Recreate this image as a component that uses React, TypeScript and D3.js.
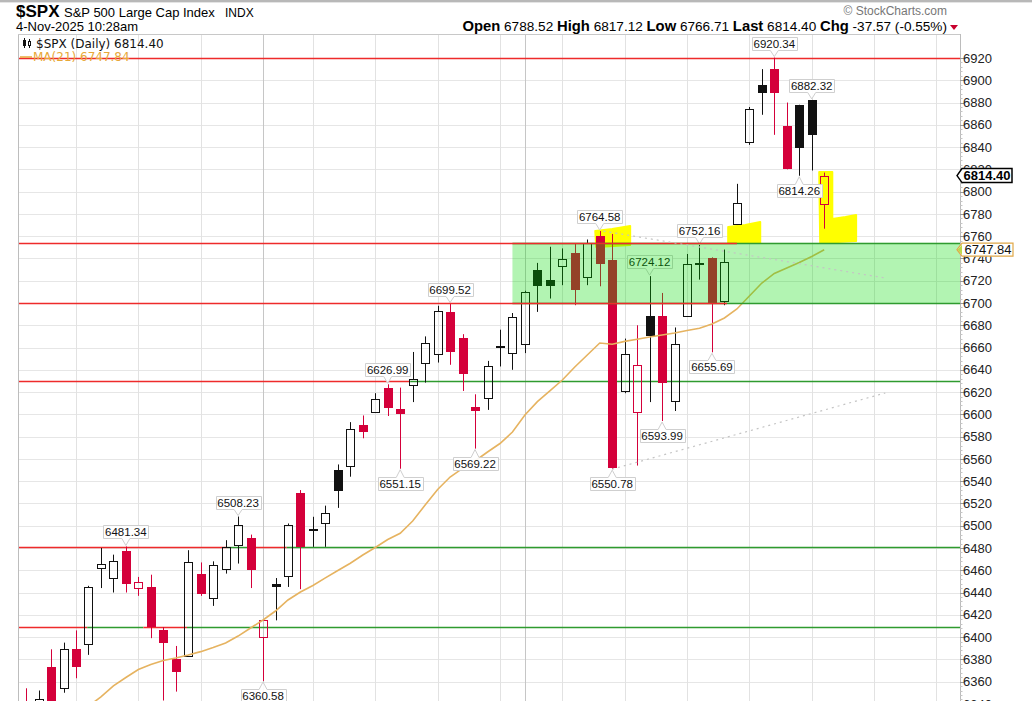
import * as d3 from 'd3';

// ---- daily candles, 5-Aug-2025 .. 4-Nov-2025 (index 0..64) ----
const opens = [
  6340, 6300, 6373, 6354,
  6389, 6394, 6462, 6453, 6477,
  6444, 6445, 6406, 6380, 6383,
  6457, 6435, 6461, 6483, 6489,
  6400, 6448, 6455, 6529,
  6497, 6502, 6550, 6554, 6590,
  6602, 6624, 6604.5, 6626, 6646,
  6654, 6692, 6669, 6607, 6614.5,
  6661, 6655, 6663.5, 6730, 6721,
  6733.5, 6745, 6723, 6760, 6739,
  6621, 6602, 6688, 6688, 6612,
  6688, 6736, 6740, 6702, 6771,
  6845, 6896, 6910, 6859, 6878,
  6882, 6788.52,
];
const highs = [
  6354, 6352, 6389, 6395,
  6406, 6446, 6480, 6474, 6481.34,
  6454, 6456, 6409, 6392, 6478,
  6467, 6468, 6487, 6508.23, 6492,
  6415, 6453, 6502, 6532,
  6508, 6518, 6555, 6593, 6599,
  6619, 6626.99, 6624, 6656, 6670,
  6697.5, 6699.52, 6672, 6618, 6648,
  6676, 6691, 6711, 6736, 6750.5,
  6749, 6753.5, 6757, 6764.58, 6762,
  6668, 6680, 6724.12, 6709, 6678,
  6744, 6752.16, 6741, 6748, 6807,
  6876, 6910, 6920.34, 6880, 6878,
  6882.32, 6817.12,
];
const lows = [
  6290, 6290, 6320, 6350,
  6363, 6384, 6444, 6440, 6440,
  6437, 6399, 6343, 6351, 6383,
  6437, 6428, 6457, 6466, 6444,
  6360.58, 6415, 6445, 6443,
  6481, 6481, 6516, 6544, 6578.5,
  6601.5, 6598.5, 6551.15, 6611, 6628.5,
  6646.5, 6644.5, 6621, 6569.22, 6604,
  6643, 6640, 6655, 6692, 6704,
  6716, 6698, 6716, 6715, 6550.78,
  6619, 6554, 6611, 6593.99, 6603,
  6688, 6721, 6655.69, 6698, 6770,
  6842, 6869, 6851, 6820, 6814.26,
  6819, 6766.71,
];
const closes = [
  6300, 6344, 6340, 6389,
  6373, 6445, 6466, 6468, 6448,
  6449, 6409, 6395, 6369, 6467,
  6439, 6465, 6481, 6501, 6460,
  6415, 6445, 6501, 6481,
  6495, 6511, 6531, 6587, 6584,
  6614, 6606, 6600, 6631.5, 6664,
  6693, 6656, 6636, 6603, 6643,
  6660, 6687, 6710, 6715, 6715.5,
  6739.5, 6712, 6754, 6735, 6552,
  6654, 6644, 6670, 6628, 6663,
  6735, 6735, 6699, 6737, 6790,
  6874, 6889, 6889, 6820.5, 6839,
  6851, 6814.40,
];
// r = close below previous close, k = close above it
const colors = [
  'r', 'k', 'r', 'k',
  'r', 'k', 'k', 'k', 'r',
  'r', 'r', 'r', 'r', 'k',
  'r', 'k', 'k', 'k', 'r',
  'r', 'k', 'k', 'r',
  'k', 'k', 'k', 'k', 'r',
  'k', 'r', 'r', 'k', 'k',
  'k', 'r', 'r', 'r', 'k',
  'k', 'k', 'k', 'k', 'k',
  'k', 'r', 'k', 'r', 'r',
  'k', 'r', 'k', 'r', 'k',
  'k', 'k', 'r', 'k', 'k',
  'k', 'k', 'r', 'r', 'k',
  'k', 'r',
];

// MA(21), starting at index 5
const maStart = 5;
const maValues = [
  6338, 6346.2, 6356.1, 6363.7, 6370.9, 6375.4, 6379, 6381.2, 6383.9, 6386.9,
  6390.6, 6394.7, 6400.9, 6408.1, 6415.3, 6423.4, 6433.3, 6440.5, 6446.3, 6453.1,
  6459.8, 6466.3, 6473.7, 6480.4, 6487.6, 6493.2, 6504.2, 6518.6, 6532.5, 6543.7,
  6551.4, 6558.1, 6566.2, 6573.8, 6584.1, 6599.4, 6611.4, 6621, 6630.8, 6642.5,
  6653.3, 6664.1, 6662.9, 6665.5, 6667.4, 6669.5, 6671.3, 6673.1, 6675.3, 6677.3,
  6681.1, 6686.5, 6694.6, 6706.3, 6717.9, 6726.5, 6731.4, 6736.4, 6741.7, 6747.84,
];

// grid: first trading day of each week, and of each month
const weekStarts = [4, 9, 14, 19, 23, 28, 33, 38, 43, 48, 53, 58, 63, 68, 73];
const monthStarts = [19, 40];

const yTicks = [
  6340, 6360, 6380, 6400, 6420, 6440, 6460, 6480, 6500, 6520, 6540, 6560, 6580, 6600, 6620,
  6640, 6660, 6680, 6700, 6720, 6740, 6760, 6780, 6800, 6820, 6840, 6860, 6880, 6900, 6920,
];

// annotation lines: [level, from index, to index, colour key]
const levelSegments: [number, number, number, string][] = [
  [6920, -1, 76, 'r'],
  [6630, -1, 30.8, 'r'], [6630, 30.8, 76, 'g'],
  [6481, -1, 16.1, 'r'], [6481, 16.1, 17.8, 'g'], [6481, 17.8, 20.9, 'r'], [6481, 20.9, 76, 'g'],
  [6409, -1, 4.9, 'r'], [6409, 4.9, 9.4, 'g'], [6409, 9.4, 12.9, 'r'], [6409, 12.9, 76, 'g'],
];
const zoneTop = 6754;
const zoneBottom = 6700;
const zoneStart = 39;
const zoneSegments: [number, number, number, string][] = [
  [6754, zoneStart, 76, 'g'], [6700, zoneStart, 76, 'g'],
  [6754, -1, 57, 'r'], [6700, -1, 56.2, 'r'],
];

// dotted trend lines [k1, v1, k2, v2]
const trendLines = [
  [46.3, 6764.58, 68.9, 6722.4],
  [47, 6550.78, 68.9, 6619.2],
];

// highlighter marks, polygons in (index, price)
const highlights: [number, number][][] = [
  [[45.64, 6764.7], [47.0, 6766.4], [48.44, 6769.1], [48.44, 6752.1], [45.72, 6750.3]],
  [[56.3, 6768.2], [57.67, 6770], [58.87, 6772.7], [58.87, 6753.9], [56.3, 6753.9]],
  [[63.6, 6817.6], [64.65, 6817.6], [64.65, 6775.4], [65.7, 6777.2], [66.56, 6779],
    [66.56, 6755.7], [63.68, 6753.9]],
];

// high / low call-outs
const calloutIndex = [60, 63, 62, 46, 54, 50, 34, 29, 30, 36, 47, 51, 55, 17, 8, 19];
const calloutValue = [6920.34, 6882.32, 6814.26, 6764.58, 6752.16, 6724.12, 6699.52, 6626.99,
  6551.15, 6569.22, 6550.78, 6593.99, 6655.69, 6508.23, 6481.34, 6360.58];
const calloutSide = ['a', 'a', 'b', 'a', 'a', 'a', 'a', 'a', 'b', 'b', 'b', 'b', 'b', 'a', 'a', 'b'];

const lastPrice = 6814.40;
const lastMA = 6747.84;

const SANS = '"Liberation Sans", Arial, Helvetica, sans-serif';
const VERD = '"DejaVu Sans", Verdana, sans-serif';
const RED = '#d4003a';
const LRED = '#ee2b2b';
const LGREEN = '#2f9b2f';

export default function App() {
  const W = 1032, H = 701;
  const left = 18, right = 960, top = 34;
  const x = d3.scaleLinear().domain([-0.65, 74.89]).range([left, right]);
  const y = d3.scaleLinear().domain([6920, 6360]).range([58, 681.6]);
  const px = (k: number) => Math.round(x(k)) + 0.5;
  const py = (v: number) => Math.round(y(v)) + 0.5;
  const cx = (k: number) => Math.max(left, Math.min(right, x(k)));

  const maLine = d3.line<number>()
    .x((_, i) => x(i + maStart))
    .y((d) => y(d));

  const poly = d3.line<[number, number]>().x((d) => x(d[0])).y((d) => y(d[1]));

  const minor = d3.range(6340, 6924, 4);

  return (
    <svg width={W} height={H} style={{ position: 'absolute', left: 0, top: 0, background: '#fff' }}
      fontFamily={SANS}>
      <defs>
        <clipPath id="plot"><rect x={left} y={top} width={right - left} height={H - top} /></clipPath>
      </defs>
      <rect width={W} height={H} fill="#fff" />
      <line x1={0} x2={W} y1={1} y2={1} stroke="#b8b8b8" strokeWidth={2} />
      <line x1={0} x2={W} y1={2.5} y2={2.5} stroke="#e4e4e4" />

      {/* header */}
      <text x={16} y={17} fontSize={17} fontWeight="bold" fill="#000">$SPX</text>
      <text x={64} y={17} fontSize={13} fill="#000">{'S&P 500 Large Cap Index'}</text>
      <text x={225} y={17} fontSize={12} fill="#000">INDX</text>
      <text x={16} y={31} fontSize={13} fill="#000">4-Nov-2025 10:28am</text>
      <text x={947} y={15} fontSize={12} fill="#777" textAnchor="end">© StockCharts.com</text>
      <text x={947} y={31} textAnchor="end" fill="#000" fontSize={13.6}>
        <tspan fontWeight="bold" fontSize={14.8}>Open</tspan> 6788.52{'  '}
        <tspan fontWeight="bold" fontSize={14.8}>High</tspan> 6817.12{'  '}
        <tspan fontWeight="bold" fontSize={14.8}>Low</tspan> 6766.71{'  '}
        <tspan fontWeight="bold" fontSize={14.8}>Last</tspan> 6814.40{'  '}
        <tspan fontWeight="bold" fontSize={14.8}>Chg</tspan> -37.57 (-0.55%)
      </text>
      <path d="M950,25 L958,25 L954,30 Z" fill="#c8002e" />

      <g clipPath="url(#plot)">
        {/* grid */}
        {yTicks.map((t) => (
          <line key={t} x1={left} x2={right} y1={py(t)} y2={py(t)} stroke="#e6e6e6" />
        ))}
        {weekStarts.map((k) => (
          <line key={k} x1={px(k)} x2={px(k)} y1={top} y2={H} stroke="#e2e2e2" />
        ))}
        {monthStarts.map((k) => (
          <line key={'m' + k} x1={px(k)} x2={px(k)} y1={top} y2={H} stroke="#c6c6c6" />
        ))}

        {/* level lines under the candles */}
        {levelSegments.map(([v, a, b, c], i) => (
          <line key={i} x1={cx(a)} x2={cx(b)} y1={py(v)} y2={py(v)}
            stroke={c === 'r' ? LRED : LGREEN} strokeWidth={1.4} />
        ))}

        {/* highlighter */}
        {highlights.map((p, i) => (
          <path key={i} d={poly(p) + 'Z'} fill="#ffff00" stroke="#ffff00" strokeWidth={2}
            strokeLinejoin="round" />
        ))}

        {/* candles */}
        {opens.map((o, i) => {
          const c = closes[i];
          const col = colors[i] === 'r' ? RED : '#111';
          const xc = px(i);
          const yt = y(Math.max(o, c));
          const yb = y(Math.min(o, c));
          if (c > o) {
            const t = Math.round(yt) + 0.5;
            const b = Math.max(Math.round(yb) + 0.5, t + 2);
            return (
              <g key={i}>
                <line x1={xc} x2={xc} y1={y(highs[i])} y2={t} stroke={col} />
                <line x1={xc} x2={xc} y1={b} y2={y(lows[i])} stroke={col} />
                <rect x={xc - 4} y={t} width={8} height={b - t} fill="none" stroke={col} />
              </g>
            );
          }
          const t = Math.round(yt);
          const b = Math.max(Math.round(yb), t + 2);
          return (
            <g key={i}>
              <line x1={xc} x2={xc} y1={y(highs[i])} y2={y(lows[i])} stroke={col} />
              <rect x={xc - 4.5} y={t} width={9} height={b - t} fill={col} />
            </g>
          );
        })}

        {/* MA(21) */}
        <path d={maLine(maValues) || ''} fill="none" stroke="#e6b360" strokeWidth={1.6} />

        {/* call-outs */}
        {calloutIndex.map((k, i) => {
          const xc = x(k);
          const v = calloutValue[i];
          const w = 45, h = 13, gap = 7;
          const x0 = Math.round(xc - w / 2) + 0.5, x1 = x0 + w;
          let d: string;
          let ty: number;
          if (calloutSide[i] === 'a') {
            const tip = y(v) - 1;
            const b = Math.round(tip - gap) + 0.5, t0 = b - h;
            d = `M${x0},${t0}H${x1}V${b}H${xc + 4}L${xc},${tip}L${xc - 4},${b}H${x0}Z`;
            ty = b - 2.5;
          } else {
            const tip = y(v) + 1;
            const t0 = Math.round(tip + gap) + 0.5, b = t0 + h;
            d = `M${x0},${t0}H${xc - 4}L${xc},${tip}L${xc + 4},${t0}H${x1}V${b}H${x0}Z`;
            ty = b - 2.5;
          }
          return (
            <g key={i}>
              <path d={d} fill="#fff" fillOpacity={0.92} stroke="#cfcfcf" />
              <text x={xc} y={ty} textAnchor="middle" fontSize={11.5} fill="#111">{v.toFixed(2)}</text>
            </g>
          );
        })}

        {/* support zone */}
        <rect x={x(zoneStart)} y={y(zoneTop)} width={right - x(zoneStart)}
          height={y(zoneBottom) - y(zoneTop)} fill="rgb(0,220,0)" fillOpacity={0.3} />
        {zoneSegments.map(([v, a, b, c], i) => (
          <line key={i} x1={cx(a)} x2={cx(b)} y1={py(v)} y2={py(v)}
            stroke={c === 'r' ? LRED : LGREEN} strokeWidth={1.4} />
        ))}

        {trendLines.map(([k1, v1, k2, v2], i) => (
          <line key={i} x1={x(k1)} y1={y(v1)} x2={x(k2)} y2={y(v2)}
            stroke="#c4c4c4" strokeWidth={1.2} strokeDasharray="2,4" />
        ))}

        {/* legend */}
        <line x1={24.5} x2={24.5} y1={38} y2={48} stroke="#111" />
        <rect x={23} y={40} width={3} height={6} fill="#111" />
        <line x1={29.5} x2={29.5} y1={39} y2={48} stroke="#111" />
        <rect x={28.5} y={41.5} width={2} height={4} fill="#fff" stroke="#111" />
        <text x={36} y={47.5} fontFamily={VERD} fontSize={12} fill="#111">
          $SPX (Daily) {lastPrice.toFixed(2)}
        </text>
        <line x1={20} x2={32} y1={57} y2={57} stroke="#e8a838" strokeWidth={1.5} />
        <text x={33} y={61} fontFamily={VERD} fontSize={12} fill="#e8a838">
          MA(21) {lastMA.toFixed(2)}
        </text>
      </g>

      {/* frame */}
      <line x1={left + 0.5} x2={left + 0.5} y1={top} y2={H} stroke="#bdbdbd" />
      <line x1={left} x2={right} y1={top + 0.5} y2={top + 0.5} stroke="#c8c8c8" />

      {/* right axis */}
      <line x1={right + 0.5} x2={right + 0.5} y1={top} y2={H} stroke="#bcbcbc" />
      {minor.map((v) => (
        <line key={v} x1={right} x2={right + 2.5} y1={py(v)} y2={py(v)} stroke="#c4c4c4" />
      ))}
      {yTicks.map((t) => (
        <g key={t}>
          <line x1={right} x2={right + 4} y1={py(t)} y2={py(t)} stroke="#999" />
          <text x={963} y={y(t)} dy="0.36em" fontSize={13} fill="#222">{t}</text>
        </g>
      ))}

      {/* price tags */}
      <path d={`M957,${y(lastPrice)}L962,${y(lastPrice) - 7}H1012V${y(lastPrice) + 7}H962Z`}
        fill="#fff" stroke="#000" strokeWidth={1.5} />
      <text x={987} y={y(lastPrice)} dy="0.36em" textAnchor="middle" fontSize={13}
        fontWeight="bold" fill="#000">{lastPrice.toFixed(2)}</text>
      <path d={`M957,${y(lastMA)}L962,${y(lastMA) - 6.5}H1013V${y(lastMA) + 6.5}H962Z`}
        fill="#fff" stroke="#e0a848" strokeWidth={1.2} />
      <path d={`M957.5,${y(lastMA)}L962,${y(lastMA) - 5}V${y(lastMA) + 5}Z`} fill="#bcd84a" />
      <text x={988} y={y(lastMA)} dy="0.36em" textAnchor="middle" fontSize={13}
        fill="#111">{lastMA.toFixed(2)}</text>
    </svg>
  );
}
